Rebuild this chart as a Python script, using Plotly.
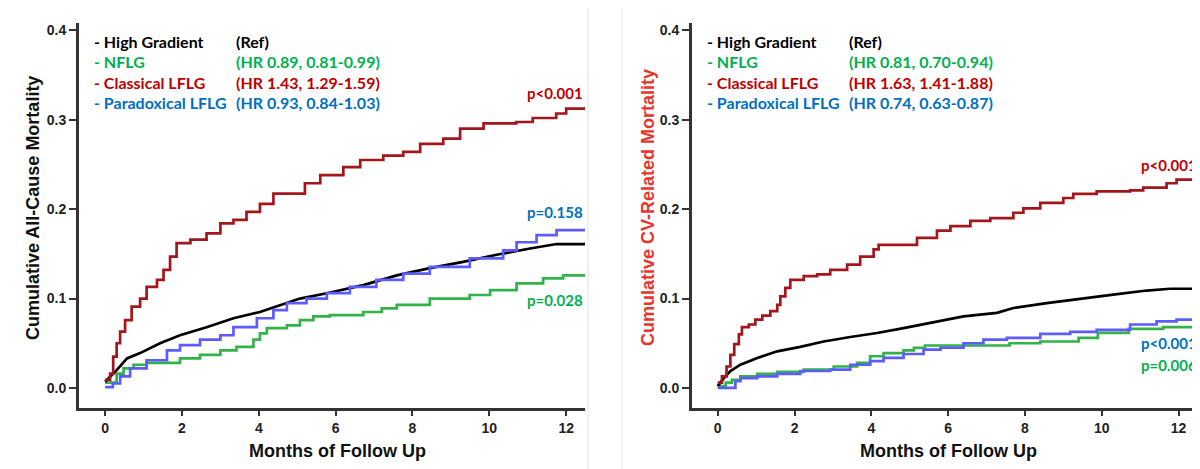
import plotly.graph_objects as go

# ---------------- data ----------------
# Left panel: all-cause mortality
ac_hg_m = [0, 0.3, 0.57, 0.91, 1.43, 1.95, 2.64, 3.34, 4.03, 4.46, 5.07, 5.77, 6.72, 7.59, 8.45, 9.32, 10.19, 11.06, 11.75, 12.6]
ac_hg_v = [0.007, 0.020, 0.033, 0.039, 0.050, 0.059, 0.068, 0.078, 0.085, 0.091, 0.100, 0.106, 0.115, 0.126, 0.134, 0.141, 0.149, 0.156, 0.161, 0.161]

ac_nf_m = [0, 0.3, 0.48, 0.74, 1.08, 1.95, 2.47, 3.0, 3.42, 3.86, 4.03, 4.21, 4.73, 5.07, 5.42, 5.85, 6.72, 7.2, 7.59, 8.45, 9.49, 10.02, 10.71, 11.4, 11.92, 12.6]
ac_nf_v = [0.006, 0.016, 0.022, 0.026, 0.028, 0.033, 0.037, 0.042, 0.046, 0.054, 0.061, 0.067, 0.070, 0.076, 0.080, 0.0815, 0.085, 0.089, 0.093, 0.100, 0.104, 0.1095, 0.117, 0.1225, 0.126, 0.126]

ac_cl_m = [0, 0.13, 0.21, 0.30, 0.39, 0.52, 0.69, 0.91, 1.08, 1.35, 1.52, 1.69, 1.86, 2.22, 2.64, 3.0, 3.34, 3.68, 4.03, 4.38, 5.2, 5.6, 6.2, 6.64, 7.24, 7.76, 8.2, 8.8, 9.24, 9.85, 10.7, 11.13, 11.74, 12.0, 12.6]
ac_cl_v = [0.009, 0.016, 0.035, 0.050, 0.063, 0.076, 0.091, 0.100, 0.113, 0.121, 0.132, 0.147, 0.162, 0.166, 0.173, 0.184, 0.188, 0.197, 0.206, 0.2175, 0.229, 0.238, 0.247, 0.255, 0.260, 0.264, 0.273, 0.279, 0.290, 0.296, 0.2975, 0.302, 0.307, 0.3125, 0.3125]

ac_pa_m = [0, 0.2, 0.39, 0.65, 1.08, 1.61, 1.95, 2.47, 3.0, 3.34, 3.95, 4.38, 4.73, 5.24, 5.77, 6.37, 7.06, 7.76, 8.45, 9.49, 10.36, 10.71, 11.23, 11.75, 12.6]
ac_pa_v = [0.001, 0.005, 0.013, 0.022, 0.031, 0.042, 0.048, 0.054, 0.059, 0.068, 0.078, 0.087, 0.095, 0.100, 0.106, 0.113, 0.121, 0.128, 0.1355, 0.145, 0.154, 0.163, 0.171, 0.1765, 0.1765]

# Right panel: CV-related mortality
cv_hg_m = [0, 0.16, 0.33, 0.59, 1.03, 1.55, 2.15, 2.76, 3.45, 4.15, 4.84, 5.36, 5.71, 6.4, 7.27, 7.7, 8.57, 9.44, 10.3, 11.17, 11.78, 12.7]
cv_hg_v = [0.002, 0.011, 0.019, 0.026, 0.0336, 0.041, 0.046, 0.052, 0.057, 0.0615, 0.067, 0.0716, 0.0746, 0.080, 0.084, 0.0895, 0.095, 0.100, 0.1045, 0.109, 0.111, 0.111]

cv_nf_m = [0, 0.21, 0.37, 0.59, 1.03, 1.55, 2.24, 3.02, 3.63, 3.97, 4.32, 4.84, 5.11, 5.4, 7.6, 8.4, 9.4, 9.9, 10.7, 11.6, 12.7]
cv_nf_v = [0.002, 0.006, 0.009, 0.013, 0.0157, 0.018, 0.0206, 0.024, 0.028, 0.0355, 0.039, 0.042, 0.045, 0.0475, 0.050, 0.052, 0.056, 0.0616, 0.066, 0.068, 0.068]

cv_cl_m = [0, 0.11, 0.23, 0.33, 0.43, 0.55, 0.63, 0.81, 0.98, 1.16, 1.37, 1.55, 1.63, 1.76, 1.89, 2.24, 2.59, 2.93, 3.37, 3.71, 4.06, 4.19, 5.19, 5.71, 6.06, 6.58, 7.1, 7.7, 7.96, 8.4, 9.0, 9.26, 9.87, 10.74, 11.08, 11.69, 11.95, 12.7]
cv_cl_v = [0.006, 0.013, 0.024, 0.037, 0.049, 0.060, 0.068, 0.071, 0.0765, 0.081, 0.086, 0.093, 0.1025, 0.112, 0.121, 0.125, 0.127, 0.132, 0.138, 0.147, 0.155, 0.160, 0.168, 0.176, 0.181, 0.187, 0.190, 0.196, 0.201, 0.207, 0.2125, 0.217, 0.220, 0.221, 0.224, 0.229, 0.233, 0.233]

cv_pa_m = [0, 0.46, 0.59, 1.03, 1.55, 2.15, 2.93, 3.45, 3.97, 4.32, 4.84, 5.36, 5.8, 6.4, 6.92, 7.53, 8.4, 9.18, 9.87, 10.74, 11.43, 11.95, 12.7]
cv_pa_v = [0.0, 0.0075, 0.011, 0.013, 0.0157, 0.019, 0.0206, 0.026, 0.030, 0.0336, 0.038, 0.043, 0.045, 0.050, 0.054, 0.056, 0.0605, 0.0627, 0.065, 0.071, 0.0746, 0.0765, 0.0765]

group_labels = ["- High Gradient", "- NFLG", "- Classical LFLG", "- Paradoxical LFLG"]
ac_hr_labels = ["(Ref)", "(HR 0.89, 0.81-0.99)", "(HR 1.43, 1.29-1.59)", "(HR 0.93, 0.84-1.03)"]
cv_hr_labels = ["(Ref)", "(HR 0.81, 0.70-0.94)", "(HR 1.63, 1.41-1.88)", "(HR 0.74, 0.63-0.87)"]
ac_pvals = ["p<0.001", "p=0.158", "p=0.028"]   # classical, paradoxical, NFLG
cv_pvals = ["p<0.001", "p<0.001", "p=0.006"]   # classical, paradoxical, NFLG
y_ticks = [0.0, 0.1, 0.2, 0.3, 0.4]
x_ticks = [0, 2, 4, 6, 8, 10, 12]

# ---------------- styling ----------------
# the page body has an 8px margin, so the figure is sized to fill the rest of the window
OFF = 8
W, H = 1200 - OFF, 469 - OFF
LINE_COL = {"hg": "#000000", "nf": "#33b24a", "cl": "#a3161c", "pa": "#5c5cff"}
TXT_COL = ["#000000", "#00b050", "#c00000", "#0070c0"]
LEG_FONT = "Lato, Carlito, Calibri, sans-serif"
AX_FONT = "Liberation Sans, Arial, sans-serif"


def px(x):
    return (x - OFF) / W


def py(y):
    return 1 - (y - OFF) / H


fig = go.Figure()


def add_panel(xa, ya, series):
    for m, v, key, shape in series:
        fig.add_trace(go.Scatter(
            x=m, y=v, mode="lines", xaxis=xa, yaxis=ya,
            line=dict(color=LINE_COL[key], width=2.7, shape=shape),
            showlegend=False, hoverinfo="skip"))


add_panel("x", "y", [
    (ac_nf_m, ac_nf_v, "nf", "hv"),
    (ac_hg_m, ac_hg_v, "hg", "linear"),
    (ac_pa_m, ac_pa_v, "pa", "hv"),
    (ac_cl_m, ac_cl_v, "cl", "hv"),
])
add_panel("x2", "y2", [
    (cv_nf_m, cv_nf_v, "nf", "hv"),
    (cv_hg_m, cv_hg_v, "hg", "linear"),
    (cv_pa_m, cv_pa_v, "pa", "hv"),
    (cv_cl_m, cv_cl_v, "cl", "hv"),
])

tickfont = dict(family=AX_FONT, size=14, color="#222222", weight="bold")
ydom = [py(408), py(22.5)]
common_x = dict(showline=True, linecolor="#333333", linewidth=3, ticks="outside",
                ticklen=5, tickwidth=1.5, tickcolor="#333333", tickvals=x_ticks,
                showgrid=False, zeroline=False, tickfont=tickfont, fixedrange=True)
common_y = dict(showline=True, linecolor="#333333", linewidth=3, ticks="outside",
                ticklen=7, tickwidth=1.5, tickcolor="#333333", tickvals=y_ticks,
                tickformat=".1f", showgrid=False, zeroline=False, tickfont=tickfont,
                range=[-0.0224, 0.4088], domain=ydom, fixedrange=True)

fig.update_layout(
    width=W, height=H, margin=dict(l=0, r=0, t=0, b=0),
    paper_bgcolor="white", plot_bgcolor="white",
    xaxis=dict(domain=[px(79), px(585)], range=[-0.68, 12.49], anchor="y", **common_x),
    yaxis=dict(anchor="x", **common_y),
    xaxis2=dict(domain=[px(692), 1.0], range=[-0.67, 12.56], anchor="y2", **common_x),
    yaxis2=dict(anchor="x2", **common_y),
)


def note(x, y, text, size, color, family, xanchor="center", angle=0):
    return dict(x=px(x), y=py(y), xref="paper", yref="paper", xanchor=xanchor,
                yanchor="middle", showarrow=False, text="<b>" + text + "</b>",
                textangle=angle, font=dict(family=family, size=size, color=color))


ann = []
# legend-like text blocks
rows_y = [41, 61.5, 82, 102.5]
for (c1, c2, hrs) in [(92, 234, ac_hr_labels), (705, 847, cv_hr_labels)]:
    for i in range(4):
        ann.append(note(c1, rows_y[i], group_labels[i], 16, TXT_COL[i], LEG_FONT, "left"))
        ann.append(note(c2, rows_y[i], hrs[i], 16, TXT_COL[i], LEG_FONT, "left"))

# p-values
for txt, y, col in [(ac_pvals[0], 93, TXT_COL[2]), (ac_pvals[1], 212, TXT_COL[3]), (ac_pvals[2], 300, TXT_COL[1])]:
    ann.append(note(585, y, txt, 15, col, LEG_FONT, "right"))
for txt, y, col in [(cv_pvals[0], 165, TXT_COL[2]), (cv_pvals[1], 343, TXT_COL[3]), (cv_pvals[2], 365, TXT_COL[1])]:
    ann.append(note(1199, y, txt, 15, col, LEG_FONT, "right"))

# axis titles
ann.append(note(337, 451, "Months of Follow Up", 18, "#111111", AX_FONT))
ann.append(note(948, 451, "Months of Follow Up", 18, "#111111", AX_FONT))
ann.append(note(33, 208, "Cumulative All-Cause Mortality", 18, "#111111", AX_FONT, angle=-90))
ann.append(note(648, 208, "Cumulative CV-Related Mortality", 18, "#e8342c", AX_FONT, angle=-90))

fig.update_layout(annotations=ann)

# faint image borders
fig.add_shape(type="line", xref="paper", yref="paper", x0=px(588), x1=px(588), y0=0, y1=1,
              line=dict(color="#e4e4e4", width=1))
fig.add_shape(type="line", xref="paper", yref="paper", x0=px(622), x1=px(622), y0=0, y1=1,
              line=dict(color="#f0f0f0", width=1))

fig.write_html("out.html")
